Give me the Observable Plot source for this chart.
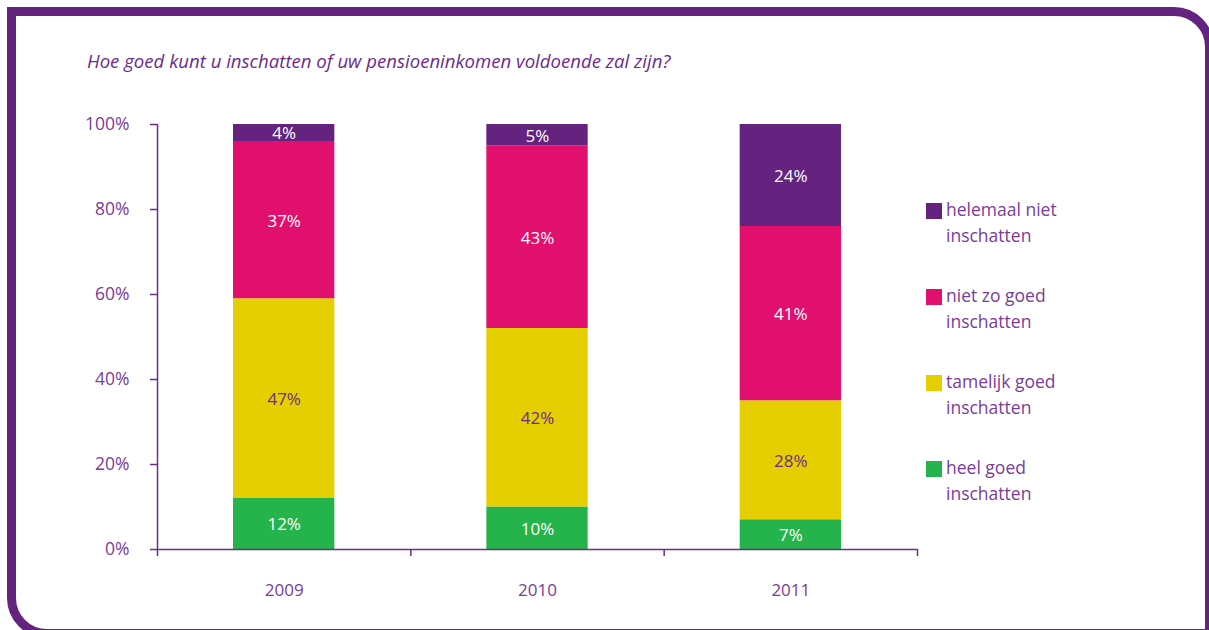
<!DOCTYPE html>
<html>
<head>
<meta charset="utf-8">
<script src="https://cdn.jsdelivr.net/npm/d3@7"></script>
<script src="https://cdn.jsdelivr.net/npm/@observablehq/plot@0.6"></script>
<style>
  html, body { margin: 0; padding: 0; background: #fff; overflow: hidden; }
  #wrap { position: relative; width: 1209px; height: 630px; overflow: hidden; font-family: "Open Sans", sans-serif; }
  #frame { position: absolute; left: 7px; top: 7px; width: 1207px; height: 631px; box-sizing: border-box;
           border: 9px solid #63237f; border-top-right-radius: 40px; border-bottom-left-radius: 40px; }
  #title { position: absolute; left: 87px; top: 48px; font-style: italic; font-size: 18.6px; color: #6b2c8b; white-space: nowrap; }
  #chart { position: absolute; left: 0; top: 0; }
  #legend { position: absolute; left: 926px; top: 201px; width: 260px; }
  .item { position: relative; height: 86px; }
  .sw { position: absolute; left: 0; top: 2px; width: 16px; height: 16px; }
  .lab { position: absolute; left: 20px; top: -5px; font-size: 17.5px; line-height: 26px; color: #7a3c97; white-space: nowrap; }
</style>
</head>
<body>
<div id="wrap">
  <div id="frame"></div>
  <div id="chart"></div>
  <div id="title">Hoe goed kunt u inschatten of uw pensioeninkomen voldoende zal zijn?</div>
  <div id="legend"></div>
</div>
<script>
const years = [2009, 2010, 2011];
const categories = ["heel goed inschatten", "tamelijk goed inschatten", "niet zo goed inschatten", "helemaal niet inschatten"];
const legendLines = [["heel goed", "inschatten"], ["tamelijk goed", "inschatten"], ["niet zo goed", "inschatten"], ["helemaal niet", "inschatten"]];
const colors = ["#25b34b", "#e5cf00", "#e10f6e", "#63237f"];
const labelColors = ["#ffffff", "#6b2c8b", "#ffffff", "#ffffff"];
const heelGoed = [12, 10, 7];
const tamelijkGoed = [47, 42, 28];
const nietZoGoed = [37, 43, 41];
const helemaalNiet = [4, 5, 24];
const yTicks = [0, 20, 40, 60, 80, 100];

const series = [heelGoed, tamelijkGoed, nietZoGoed, helemaalNiet];
const rows = [];
years.forEach((yr, i) => {
  let acc = 0;
  series.forEach((s, k) => {
    rows.push({year: yr, cat: categories[k], value: s[i], y1: acc, y2: acc + s[i], k});
    acc += s[i];
  });
});
const half = 0.5, barHalf = 0.2;
const xMin = d3.min(years) - half, xMax = d3.max(years) + half;
const bounds = d3.range(xMin, xMax + 0.01, 1);
const axisColor = "#6b2c8b";

const plot = Plot.plot({
  width: 1209,
  height: 630,
  marginLeft: 157,
  marginRight: 292,
  marginTop: 124,
  marginBottom: 81,
  style: {background: "transparent", fontFamily: "Open Sans, sans-serif", fontSize: "16px", color: "#7a3c97"},
  x: {domain: [xMin, xMax], axis: null},
  y: {domain: [0, 100], axis: null},
  color: {domain: categories, range: colors},
  marks: [
    Plot.rect(rows, {x1: d => d.year - barHalf, x2: d => d.year + barHalf, y1: "y1", y2: "y2", fill: "cat"}),
    Plot.text(rows, {x: "year", y: d => (d.y1 + d.y2) / 2, text: d => d.value + "%", fill: d => labelColors[d.k], fontSize: 17, dy: 1}),
    Plot.ruleX([xMin], {y1: 0, y2: 100, stroke: axisColor, strokeWidth: 1.5}),
    Plot.ruleY([0], {stroke: axisColor, strokeWidth: 1.5}),
    Plot.axisY({ticks: yTicks, tickFormat: d => d + "%", tickSize: 7, tickPadding: 21, stroke: axisColor, strokeWidth: 1.5, fill: "#7a3c97", fontSize: 17.5, label: null}),
    Plot.axisX({ticks: bounds, tickFormat: () => "", tickSize: 7, stroke: axisColor, strokeWidth: 1.5, label: null}),
    Plot.axisX({ticks: years, tickFormat: d => String(d), tickSize: 0, tickPadding: 34, fill: "#7a3c97", fontSize: 17, label: null})
  ]
});
document.getElementById("chart").appendChild(plot);

const legend = document.getElementById("legend");
for (let k = categories.length - 1; k >= 0; k--) {
  const item = document.createElement("div");
  item.className = "item";
  const sw = document.createElement("div");
  sw.className = "sw";
  sw.style.background = colors[k];
  const lab = document.createElement("div");
  lab.className = "lab";
  lab.innerHTML = legendLines[k].join("<br>");
  item.appendChild(sw);
  item.appendChild(lab);
  legend.appendChild(item);
}
</script>
</body>
</html>
